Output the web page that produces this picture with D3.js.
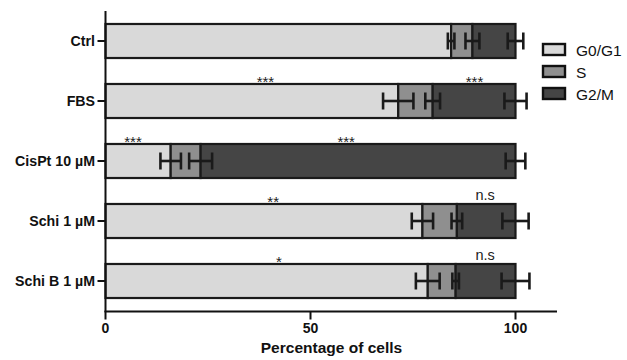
<!DOCTYPE html>
<html><head><meta charset="utf-8">
<script src="https://cdn.jsdelivr.net/npm/d3@7"></script>
<style>body{margin:0;background:#fff}svg{display:block}</style>
</head><body>
<script>
const categories = ["Ctrl", "FBS", "CisPt 10 µM", "Schi 1 µM", "Schi B 1 µM"];
const phases = ["G0/G1", "S", "G2/M"];
const g0g1 = [84.3, 71.4, 15.9, 77.3, 78.6];
const sPhase = [5.2, 8.4, 7.3, 8.4, 6.8];
const g2m = [10.5, 20.2, 76.8, 14.3, 14.6];
const g0g1Err = [0.8, 3.7, 2.5, 2.6, 2.9];
const sErr = [1.7, 1.8, 2.8, 1.3, 0.8];
const g2mErr = [1.9, 2.7, 2.4, 3.2, 3.4];
const xTicks = [0, 50, 100];
// significance annotations: category, x-value, label
const annotations = [
  ["FBS", 39, "***"], ["FBS", 90, "***"],
  ["CisPt 10 µM", 6.7, "***"], ["CisPt 10 µM", 58.7, "***"],
  ["Schi 1 µM", 40.9, "**"], ["Schi 1 µM", 92.6, "n.s"],
  ["Schi B 1 µM", 42.3, "*"], ["Schi B 1 µM", 92.6, "n.s"]
];
const colors = ["#d9d9d9", "#8f8f8f", "#454545"];

const W = 627, H = 360;
const svg = d3.select("body").append("svg").attr("width", W).attr("height", H)
  .style("font-family", "Arial, 'Liberation Sans', sans-serif");

const x = d3.scaleLinear().domain([0, 100]).range([105.5, 515.5]);
const y = d3.scaleBand().domain(categories).range([11, 311]).paddingInner(0.433).paddingOuter(0.2165);

const values = [g0g1, sPhase, g2m];
const errs = [g0g1Err, sErr, g2mErr];

const g = svg.append("g");
categories.forEach((c, i) => {
  let acc = 0;
  const y0 = y(c), bh = y.bandwidth(), cy = y0 + bh / 2;
  const ends = [];
  values.forEach((arr, k) => {
    const v = arr[i];
    g.append("rect")
      .attr("x", x(acc)).attr("y", y0)
      .attr("width", x(acc + v) - x(acc)).attr("height", bh)
      .attr("fill", colors[k]).attr("stroke", "#1a1a1a").attr("stroke-width", 2.2);
    acc += v;
    ends.push(acc);
  });
  ends.forEach((e, k) => {
    const err = errs[k][i];
    const eg = g.append("g").attr("stroke", "#1a1a1a").attr("stroke-width", 2.6);
    eg.append("line").attr("x1", x(e - err)).attr("x2", x(e + err)).attr("y1", cy).attr("y2", cy);
    [e - err, e + err].forEach(v => {
      eg.append("line").attr("x1", x(v)).attr("x2", x(v)).attr("y1", cy - 8.5).attr("y2", cy + 8.5);
    });
  });
});

// annotations
annotations.forEach(([c, v, t]) => {
  const isNs = t === "n.s";
  svg.append("text").attr("x", x(v)).attr("y", y(c) + (isNs ? -4 : 3.5))
    .attr("text-anchor", "middle")
    .attr("font-size", isNs ? 14.5 : 15).attr("fill", "#222")
    .text(t);
});

// y axis
const yAxis = svg.append("g").attr("transform", "translate(105.5,0)");
yAxis.append("line").attr("x1", 0).attr("x2", 0).attr("y1", 11).attr("y2", 312).attr("stroke", "#111").attr("stroke-width", 2);
categories.forEach(c => {
  const cy = y(c) + y.bandwidth() / 2;
  yAxis.append("line").attr("x1", -8).attr("x2", 0).attr("y1", cy).attr("y2", cy).attr("stroke", "#111").attr("stroke-width", 2);
  yAxis.append("text").attr("x", -10.5).attr("y", cy).attr("dy", "0.36em")
    .attr("text-anchor", "end").attr("font-size", 14.2).attr("font-weight", "bold").attr("fill", "#111").text(c);
});

// x axis
const xAxis = svg.append("g").attr("transform", "translate(0,311.5)");
xAxis.append("line").attr("x1", 104.5).attr("x2", 557).attr("y1", 0).attr("y2", 0).attr("stroke", "#111").attr("stroke-width", 2);
xTicks.forEach(t => {
  xAxis.append("line").attr("x1", x(t)).attr("x2", x(t)).attr("y1", 0).attr("y2", 8).attr("stroke", "#111").attr("stroke-width", 2);
  xAxis.append("text").attr("x", x(t)).attr("y", 11.8).attr("dy", "0.71em")
    .attr("text-anchor", "middle").attr("font-size", 14).attr("font-weight", "bold").attr("fill", "#111").text(t);
});
svg.append("text").attr("x", 331.5).attr("y", 352.7).attr("text-anchor", "middle")
  .attr("font-size", 14.5).attr("font-weight", "bold").attr("fill", "#111")
  .attr("textLength", 141.5).attr("lengthAdjust", "spacingAndGlyphs")
  .text("Percentage of cells");

// legend
const leg = svg.append("g").attr("transform", "translate(543,43)");
phases.forEach((p, k) => {
  const row = leg.append("g").attr("transform", `translate(0,${k * 22})`);
  row.append("rect").attr("x", 0).attr("y", 1).attr("width", 22).attr("height", 11)
    .attr("fill", colors[k]).attr("stroke", "#111").attr("stroke-width", 2.4);
  row.append("text").attr("x", 33).attr("y", 7).attr("dy", "0.36em")
    .attr("font-size", 15.5).attr("fill", "#111").text(p);
});
</script>
</body></html>
